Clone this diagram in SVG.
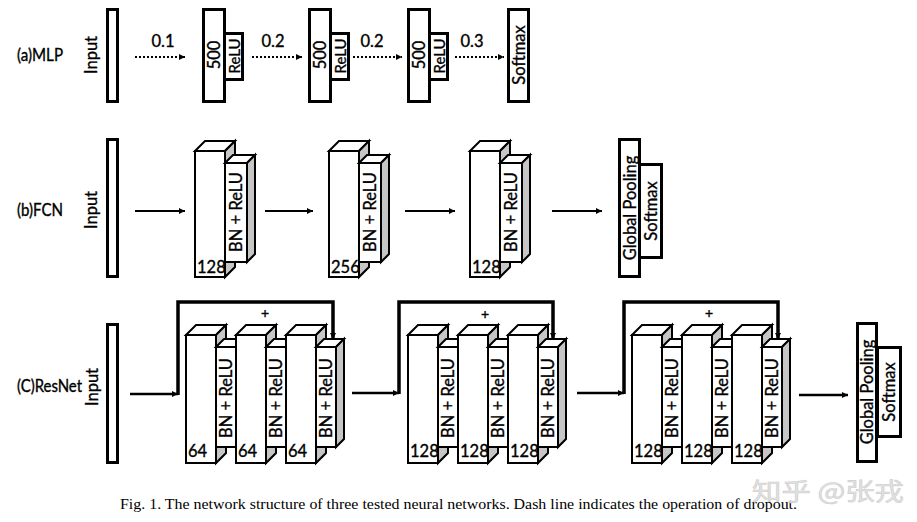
<svg xmlns="http://www.w3.org/2000/svg" xmlns:xlink="http://www.w3.org/1999/xlink" width="917" height="522" viewBox="0 0 917 522">
<style>
.box{fill:#fff;stroke:#000;stroke-width:3}
.f{fill:#fff;stroke:#000;stroke-width:2;stroke-linejoin:miter}
.s{fill:#c6c6c6;stroke:#000;stroke-width:2;stroke-linejoin:miter}
.t{font-family:Lato,"Liberation Sans",sans-serif;font-size:16.5px;fill:#000;stroke:#000;stroke-width:0.35}
.r{text-anchor:middle;dominant-baseline:central}
.dot{stroke:#000;stroke-width:2.2;stroke-dasharray:2 2;fill:none}
.ar{stroke:#000;stroke-width:1.8;fill:none}
.ar2{stroke:#000;stroke-width:2.6;fill:none}
.sk{stroke:#000;stroke-width:3.5;fill:none;stroke-linejoin:miter}
</style>
<defs>
<marker id="ah" viewBox="0 0 10 10" refX="10" refY="5" markerWidth="7" markerHeight="6" markerUnits="userSpaceOnUse" orient="auto"><path d="M0,0L10,5L0,10z" fill="#000"/></marker>
<g id="bigF"><polygon class="f" points="0,0 10,-10 40,-10 30,0"/><polygon class="s" points="30,0 40,-10 40,116 30,126"/><rect class="f" x="0" y="0" width="30" height="126"/></g>
<g id="bnF"><polygon class="f" points="0,0 8,-8 30,-8 22,0"/><polygon class="s" points="22,0 30,-8 30,91 22,99"/><rect class="f" x="0" y="0" width="22" height="99"/></g>
<g id="bigR"><polygon class="f" points="0,0 10,-10 40,-10 30,0"/><polygon class="s" points="30,0 40,-10 40,118 30,128"/><rect class="f" x="0" y="0" width="30" height="128"/></g>
<g id="bnR"><polygon class="f" points="0,0 8,-8 28,-8 20,0"/><polygon class="s" points="20,0 28,-8 28,92 20,100"/><rect class="f" x="0" y="0" width="20" height="100"/></g>
</defs>

<g id="row-labels" class="t">
<text x="17" y="55" dominant-baseline="central" textLength="46" lengthAdjust="spacingAndGlyphs">(a)MLP</text>
<text x="17" y="210" dominant-baseline="central" textLength="46" lengthAdjust="spacingAndGlyphs">(b)FCN</text>
<text x="17" y="386" dominant-baseline="central" textLength="65" lengthAdjust="spacingAndGlyphs">(C)ResNet</text>
</g>

<!-- MLP -->
<g id="mlp-input"><rect class="box" x="107.5" y="9.5" width="10" height="92"/><text class="t r" transform="translate(91,55) rotate(-90)">Input</text></g>
<g id="mlp-h1"><rect class="box" x="203.5" y="9.5" width="21" height="92"/><rect class="box" x="224.5" y="33.5" width="18" height="46"/><text class="t r" transform="translate(214,55) rotate(-90)">500</text><text class="t r" style="font-size:15px" transform="translate(233.5,56) rotate(-90)">ReLU</text></g>
<g id="mlp-h2"><rect class="box" x="309.5" y="9.5" width="21" height="92"/><rect class="box" x="330.5" y="33.5" width="18" height="46"/><text class="t r" transform="translate(320,55) rotate(-90)">500</text><text class="t r" style="font-size:15px" transform="translate(339.5,56) rotate(-90)">ReLU</text></g>
<g id="mlp-h3"><rect class="box" x="408.5" y="9.5" width="21" height="92"/><rect class="box" x="429.5" y="33.5" width="18" height="46"/><text class="t r" transform="translate(419,55) rotate(-90)">500</text><text class="t r" style="font-size:15px" transform="translate(438.5,56) rotate(-90)">ReLU</text></g>
<g id="mlp-softmax"><rect class="box" x="508.5" y="9.5" width="20" height="92"/><text class="t r" transform="translate(518.5,55) rotate(-90)">Softmax</text></g>

<!-- FCN -->
<g id="fcn-input"><rect class="box" x="107.5" y="139.5" width="10" height="137"/><text class="t r" transform="translate(91,210) rotate(-90)">Input</text></g>
<g id="fcn-c1"><use xlink:href="#bigF" x="195" y="151"/><use xlink:href="#bnF" x="225" y="163"/><text class="t" x="197" y="273">128</text><text class="t r" transform="translate(236,212) rotate(-90)">BN + ReLU</text></g>
<g id="fcn-c2"><use xlink:href="#bigF" x="329" y="151"/><use xlink:href="#bnF" x="359" y="163"/><text class="t" x="331" y="273">256</text><text class="t r" transform="translate(370,212) rotate(-90)">BN + ReLU</text></g>
<g id="fcn-c3"><use xlink:href="#bigF" x="470" y="151"/><use xlink:href="#bnF" x="500" y="163"/><text class="t" x="472" y="273">128</text><text class="t r" transform="translate(511,212) rotate(-90)">BN + ReLU</text></g>
<g id="fcn-out"><rect class="box" x="619.5" y="139.5" width="20" height="137"/><rect class="box" x="639.5" y="164.5" width="22" height="93"/><text class="t r" transform="translate(630,208) rotate(-90)">Global Pooling</text><text class="t r" transform="translate(651,211) rotate(-90)">Softmax</text></g>

<!-- ResNet -->
<g id="res-input"><rect class="box" x="107.5" y="324.5" width="10" height="138"/><text class="t r" transform="translate(92,387) rotate(-90)">Input</text></g>
<g id="res-b1">
<use xlink:href="#bigR" x="186" y="335"/><use xlink:href="#bnR" x="216" y="347"/>
<use xlink:href="#bigR" x="236" y="335"/><use xlink:href="#bnR" x="266" y="347"/>
<use xlink:href="#bigR" x="286" y="335"/><use xlink:href="#bnR" x="316" y="347"/>
<g class="t"><text x="188" y="457">64</text><text x="238" y="457">64</text><text x="288" y="457">64</text></g>
<text class="t r" transform="translate(226,398) rotate(-90)">BN + ReLU</text><text class="t r" transform="translate(276,398) rotate(-90)">BN + ReLU</text><text class="t r" transform="translate(326,398) rotate(-90)">BN + ReLU</text>
</g>
<g id="res-b2">
<use xlink:href="#bigR" x="408" y="335"/><use xlink:href="#bnR" x="438" y="347"/>
<use xlink:href="#bigR" x="458" y="335"/><use xlink:href="#bnR" x="488" y="347"/>
<use xlink:href="#bigR" x="508" y="335"/><use xlink:href="#bnR" x="538" y="347"/>
<g class="t"><text x="410" y="457">128</text><text x="460" y="457">128</text><text x="510" y="457">128</text></g>
<text class="t r" transform="translate(448,398) rotate(-90)">BN + ReLU</text><text class="t r" transform="translate(498,398) rotate(-90)">BN + ReLU</text><text class="t r" transform="translate(548,398) rotate(-90)">BN + ReLU</text>
</g>
<g id="res-b3">
<use xlink:href="#bigR" x="632" y="335"/><use xlink:href="#bnR" x="662" y="347"/>
<use xlink:href="#bigR" x="682" y="335"/><use xlink:href="#bnR" x="712" y="347"/>
<use xlink:href="#bigR" x="732" y="335"/><use xlink:href="#bnR" x="762" y="347"/>
<g class="t"><text x="634" y="457">128</text><text x="684" y="457">128</text><text x="734" y="457">128</text></g>
<text class="t r" transform="translate(672,398) rotate(-90)">BN + ReLU</text><text class="t r" transform="translate(722,398) rotate(-90)">BN + ReLU</text><text class="t r" transform="translate(772,398) rotate(-90)">BN + ReLU</text>
</g>
<g id="res-out"><rect class="box" x="857.5" y="323.5" width="19" height="138"/><rect class="box" x="877.5" y="347.5" width="23" height="89"/><text class="t r" transform="translate(867,392) rotate(-90)">Global Pooling</text><text class="t r" transform="translate(889,392) rotate(-90)">Softmax</text></g>

<!-- connectors -->
<g id="connectors">
<line class="dot" x1="135" y1="57" x2="185" y2="57" marker-end="url(#ah)"/>
<line class="dot" x1="252" y1="57" x2="302" y2="57" marker-end="url(#ah)"/>
<line class="dot" x1="353" y1="57" x2="402" y2="57" marker-end="url(#ah)"/>
<line class="dot" x1="455" y1="57" x2="504" y2="57" marker-end="url(#ah)"/>
<g class="t" text-anchor="middle"><text x="163" y="47">0.1</text><text x="273" y="47">0.2</text><text x="372" y="47">0.2</text><text x="472" y="47">0.3</text></g>
<line class="ar" x1="135" y1="211" x2="185" y2="211" marker-end="url(#ah)"/>
<line class="ar" x1="265" y1="211" x2="313" y2="211" marker-end="url(#ah)"/>
<line class="ar" x1="405" y1="211" x2="455" y2="211" marker-end="url(#ah)"/>
<line class="ar" x1="552" y1="211" x2="602" y2="211" marker-end="url(#ah)"/>
<line class="ar2" x1="130" y1="394" x2="178" y2="394" marker-end="url(#ah)"/>
<line class="ar2" x1="352" y1="393" x2="399" y2="393" marker-end="url(#ah)"/>
<line class="ar2" x1="577" y1="393" x2="624" y2="393" marker-end="url(#ah)"/>
<line class="ar2" x1="799" y1="395" x2="848" y2="395" marker-end="url(#ah)"/>
<path class="sk" d="M178,395V302H333V339" marker-end="url(#ah)"/>
<path class="sk" d="M399,394V302H553V339" marker-end="url(#ah)"/>
<path class="sk" d="M624,394V302H778V339" marker-end="url(#ah)"/>
<g class="t" text-anchor="middle" style="font-size:14px"><text x="265" y="318">+</text><text x="485" y="319">+</text><text x="709" y="318">+</text></g>
</g>

<text x="120" y="509" textLength="677" lengthAdjust="spacingAndGlyphs" style="font-family:'Liberation Serif',serif;font-size:14px;fill:#000">Fig. 1.  The network structure of three tested neural networks. Dash line indicates the operation of dropout.</text>
<text x="752" y="500" textLength="152" lengthAdjust="spacingAndGlyphs" style="font-family:'Noto Sans CJK SC',sans-serif;font-size:24px;fill:#e2e2e2;stroke:#cfcfcf;stroke-width:0.6">知乎 @张戎</text>
</svg>
